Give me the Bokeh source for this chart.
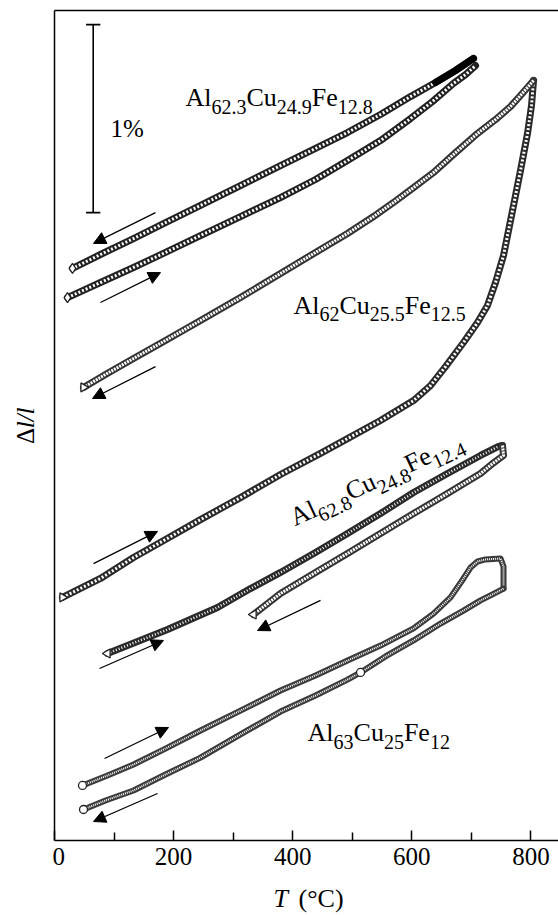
import math
from bokeh.plotting import figure
from bokeh.layouts import row, column
from bokeh.models import Label, Arrow, NormalHead, FixedTicker, LinearAxis, Range1d, ColumnDataSource
from bokeh.core.properties import value
from bokeh.embed import file_html
from bokeh.resources import INLINE

# ---- data: temperature T (°C) and relative elongation Δl/l (%, arbitrary offset) ----
c1_heat_T = [21.8, 77.2, 132.7, 186.4, 245.2, 312.3, 379.5, 438.3, 492.0, 547.4, 597.8, 634.8, 670.0, 690.2, 707.0]
c1_heat_dl = [2.888, 2.968, 3.048, 3.128, 3.218, 3.319, 3.420, 3.516, 3.617, 3.723, 3.840, 3.931, 4.027, 4.074, 4.122]
c1_cool_T = [703.6, 673.4, 639.8, 597.8, 547.4, 492.0, 438.3, 379.5, 312.3, 245.2, 186.4, 132.7, 77.2, 30.2]
c1_cool_dl = [4.160, 4.096, 4.032, 3.957, 3.862, 3.766, 3.681, 3.590, 3.484, 3.378, 3.287, 3.202, 3.117, 3.043]

c2_heat_T = [13.4, 77.2, 132.7, 186.4, 245.2, 312.3, 379.5, 446.7, 492.0, 547.4, 602.9, 631.4, 656.6, 686.8,
             710.3, 727.1, 740.6, 754.0, 770.8, 782.5, 794.3, 801.0, 804.4]
c2_heat_dl = [1.293, 1.394, 1.505, 1.601, 1.707, 1.824, 1.947, 2.059, 2.138, 2.234, 2.340, 2.420, 2.521, 2.649,
              2.755, 2.846, 2.968, 3.112, 3.378, 3.564, 3.761, 3.910, 4.043]
c2_cool_T = [804.4, 782.5, 765.7, 740.6, 710.3, 670.0, 636.4, 602.9, 569.3, 535.7, 492.0, 438.3, 379.5, 312.3,
             245.2, 186.4, 132.7, 85.6, 48.7]
c2_cool_dl = [4.043, 3.963, 3.904, 3.835, 3.761, 3.649, 3.553, 3.473, 3.394, 3.319, 3.229, 3.128, 3.016, 2.888,
              2.766, 2.660, 2.564, 2.479, 2.410]

c3_heat_T = [89.0, 139.4, 189.8, 231.7, 273.7, 329.1, 379.5, 438.3, 492.0, 547.4, 602.9, 659.9, 715.4, 745.6, 752.3]
c3_heat_dl = [0.995, 1.059, 1.122, 1.181, 1.239, 1.340, 1.426, 1.532, 1.633, 1.739, 1.851, 1.952, 2.048, 2.096, 2.101]
c3_cool_T = [752.3, 754.0, 735.5, 715.4, 659.9, 602.9, 547.4, 492.0, 438.3, 379.5, 334.2]
c3_cool_dl = [2.101, 2.048, 2.005, 1.952, 1.846, 1.739, 1.633, 1.527, 1.426, 1.314, 1.202]

c4_heat_T = [47.0, 89.0, 132.7, 186.4, 245.2, 312.3, 379.5, 438.3, 492.0, 547.4, 602.9, 636.4, 665.0, 686.8,
             698.6, 710.3, 723.8, 749.0, 754.0, 754.0]
c4_heat_dl = [0.293, 0.346, 0.404, 0.489, 0.585, 0.691, 0.798, 0.878, 0.957, 1.037, 1.128, 1.207, 1.293, 1.394,
              1.452, 1.484, 1.495, 1.500, 1.457, 1.340]
c4_cool_T = [754.0, 735.5, 715.4, 686.8, 648.2, 602.9, 555.8, 513.9, 492.0, 438.3, 379.5, 312.3, 245.2, 186.4,
             132.7, 85.6, 48.7]
c4_cool_dl = [1.340, 1.309, 1.277, 1.223, 1.154, 1.064, 0.979, 0.894, 0.856, 0.771, 0.686, 0.564, 0.441, 0.351,
              0.266, 0.213, 0.165]

# direction arrows (start -> end)
arrow_T0 = [169.6, 77.2, 169.6, 65.5, 75.6, 446.7, 84.0, 173.0]
arrow_dl0 = [3.340, 2.862, 2.521, 1.473, 0.915, 1.277, 0.436, 0.250]
arrow_T1 = [65.5, 178.0, 63.8, 173.0, 183.0, 340.9, 191.4, 65.5]
arrow_dl1 = [3.176, 3.021, 2.351, 1.644, 1.064, 1.117, 0.601, 0.101]

# 1 % scale bar
bar_T = 65.0
bar_dl = [3.34, 4.34]
bar_cap = 12.0

x_ticks = [0, 200, 400, 600, 800]
x_minor = [100, 300, 500, 700]

SERIF = "Liberation Serif"
yr = Range1d(0, 4.415)

# ---------------- main plot ----------------
p = figure(width=506, height=880, output_backend="svg", toolbar_location=None,
           x_range=Range1d(0, 846.3), y_range=yr,
           min_border_left=2, min_border_right=0, min_border_top=10, min_border_bottom=40)
p.outline_line_color = None
p.xgrid.visible = False
p.ygrid.visible = False
p.background_fill_color = "white"
p.border_fill_color = "white"

ax = p.xaxis[0]
ax.ticker = FixedTicker(ticks=x_ticks, minor_ticks=x_minor)
ax.major_tick_in = 10
ax.major_tick_out = 0
ax.minor_tick_in = 8
ax.minor_tick_out = 0
ax.axis_line_width = 1.5
ax.major_tick_line_width = 1.5
ax.minor_tick_line_width = 1.5
ax.major_label_text_font = SERIF
ax.major_label_text_font_size = "25px"
ax.major_label_text_color = "black"
ax.major_label_standoff = 7

ay = p.yaxis[0]
ay.ticker = FixedTicker(ticks=[])
ay.major_tick_in = 0
ay.major_tick_out = 0
ay.minor_tick_in = 0
ay.minor_tick_out = 0
ay.major_label_standoff = 0
ay.axis_line_width = 1.5

top = LinearAxis(ticker=FixedTicker(ticks=[]), major_tick_in=0, major_tick_out=0,
                 minor_tick_in=0, minor_tick_out=0, major_label_standoff=0, axis_line_width=1.5)
p.add_layout(top, "above")


def chain(T, dl, dash, ow=7, iw=3, color="#222222"):
    p.line(T, dl, line_width=ow, line_color=color, line_join="round", line_cap="round")
    p.line(T, dl, line_width=iw, line_color="white", line_dash=dash, line_join="round")


# curve 1: Al62.3Cu24.9Fe12.8
chain(c1_heat_T, c1_heat_dl, "2 2")
chain(c1_cool_T, c1_cool_dl, "2 2")
p.line(c1_cool_T[:3], c1_cool_dl[:3], line_width=7, line_color="black", line_cap="round")
p.scatter([c1_heat_T[0], c1_cool_T[-1]], [c1_heat_dl[0], c1_cool_dl[-1]], marker="diamond",
          size=10, fill_color="white", line_color="#222222", line_width=1.3)

# curve 2: Al62Cu25.5Fe12.5
chain(c2_heat_T, c2_heat_dl, "2 2", color="#2a2a2a")
chain(c2_cool_T, c2_cool_dl, "2 1", color="#333333")
p.scatter([c2_heat_T[0], c2_cool_T[-1]], [c2_heat_dl[0], c2_cool_dl[-1]], marker="triangle",
          size=9, fill_color="white", line_color="#222222", line_width=1.3, angle=math.pi / 6)

# curve 3: Al62.8Cu24.8Fe12.4
chain(c3_heat_T, c3_heat_dl, "1 2", iw=2.5, color="#2a2a2a")
chain(c3_cool_T, c3_cool_dl, "2 1", color="#333333")
p.scatter([c3_heat_T[0], c3_cool_T[-1]], [c3_heat_dl[0], c3_cool_dl[-1]], marker="triangle",
          size=9, fill_color="white", line_color="#222222", line_width=1.3, angle=math.pi / 2)

# curve 4: Al63Cu25Fe12
chain(c4_heat_T, c4_heat_dl, "1 1", ow=6, iw=2.0, color="#3a3a3a")
chain(c4_cool_T, c4_cool_dl, "1 1", ow=6, iw=2.0, color="#3a3a3a")
p.scatter([c4_heat_T[0], c4_cool_T[-1], c4_cool_T[7]], [c4_heat_dl[0], c4_cool_dl[-1], c4_cool_dl[7]],
          marker="circle", size=8, fill_color="white", line_color="#222222", line_width=1.3)

# arrows
asrc = ColumnDataSource(dict(x0=arrow_T0, y0=arrow_dl0, x1=arrow_T1, y1=arrow_dl1))
p.add_layout(Arrow(source=asrc, x_start="x0", y_start="y0", x_end="x1", y_end="y1",
                   line_width=1.3, line_color="black",
                   end=NormalHead(size=12, fill_color="black", line_color="black", line_width=1)))

# scale bar
p.segment([bar_T, bar_T - bar_cap, bar_T - bar_cap], [bar_dl[0], bar_dl[0], bar_dl[1]],
          [bar_T, bar_T + bar_cap, bar_T + bar_cap], [bar_dl[1], bar_dl[0], bar_dl[1]],
          line_width=1.6, line_color="black")

# ---- formula labels ----
WID = {'A': 722, 'l': 278, 'C': 667, 'u': 500, 'F': 556, 'e': 444, '.': 250, '%': 833}


def tw(s, size):
    return sum(WID.get(c, 500) for c in s) * size / 1000.0


def formula(T, dl, parts, angle_deg=0.0, main=26, sub=20, drop=9):
    th = math.radians(angle_deg)
    w = 0.0
    for txt, is_sub in parts:
        size = sub if is_sub else main
        d = drop if is_sub else 0
        xo = w * math.cos(th) + d * math.sin(th)
        yo = w * math.sin(th) - d * math.cos(th)
        p.add_layout(Label(x=T, y=dl, x_offset=xo, y_offset=yo, text=txt, angle=th,
                           text_font=SERIF, text_font_size=f"{size}px", text_color="black",
                           text_baseline="alphabetic", text_align="left"))
        w += tw(txt, size)


formula(220.0, 3.952, [("Al", 0), ("62.3", 1), ("Cu", 0), ("24.9", 1), ("Fe", 0), ("12.8", 1)])
formula(401.3, 2.846, [("Al", 0), ("62", 1), ("Cu", 0), ("25.5", 1), ("Fe", 0), ("12.5", 1)])
formula(398.0, 1.712, [("Al", 0), ("62.8", 1), ("Cu", 0), ("24.8", 1), ("Fe", 0), ("12.4", 1)], angle_deg=25)
formula(424.9, 0.574, [("Al", 0), ("63", 1), ("Cu", 0), ("25", 1), ("Fe", 0), ("12", 1)])
p.add_layout(Label(x=94.0, y=3.787, text="1%", text_font=SERIF, text_font_size="25px",
                   text_baseline="alphabetic", text_align="left", text_color="black"))

# ---------------- y-axis title strip (same vertical frame as the main plot) ----------------
pl = figure(width=52, height=880, output_backend="svg", toolbar_location=None,
            x_range=Range1d(0, 52), y_range=yr, x_axis_type=None, y_axis_type=None,
            min_border_left=0, min_border_right=0, min_border_top=10, min_border_bottom=40)
pl.outline_line_color = None
pl.xgrid.visible = False
pl.ygrid.visible = False
pl.text(x=[25], y=[2.152], text=["Δ"], angle=math.pi / 2, text_font=value(SERIF),
        text_font_size="25px", text_baseline="middle", text_align="center", text_color="black")
pl.text(x=[25], y=[2.248], text=["l/l"], angle=math.pi / 2, text_font=value(SERIF),
        text_font_style="italic", text_font_size="25px", text_baseline="middle",
        text_align="center", text_color="black")

# ---------------- x-axis title strip ----------------
pb = figure(width=558, height=35, output_backend="svg", toolbar_location=None,
            x_range=Range1d(0, 558), y_range=Range1d(0, 35), x_axis_type=None, y_axis_type=None,
            min_border=0)
pb.outline_line_color = None
pb.xgrid.visible = False
pb.ygrid.visible = False
pb.text(x=[273], y=[17], text=["T"], text_font=value(SERIF), text_font_style="italic",
        text_font_size="26px", text_baseline="alphabetic", text_align="left", text_color="black")
pb.text(x=[298], y=[17], text=["(°C)"], text_font=value(SERIF),
        text_font_size="26px", text_baseline="alphabetic", text_align="left", text_color="black")

layout = column(row(pl, p, spacing=0), pb, spacing=0)
open("out.html", "w").write(file_html(layout, INLINE))
